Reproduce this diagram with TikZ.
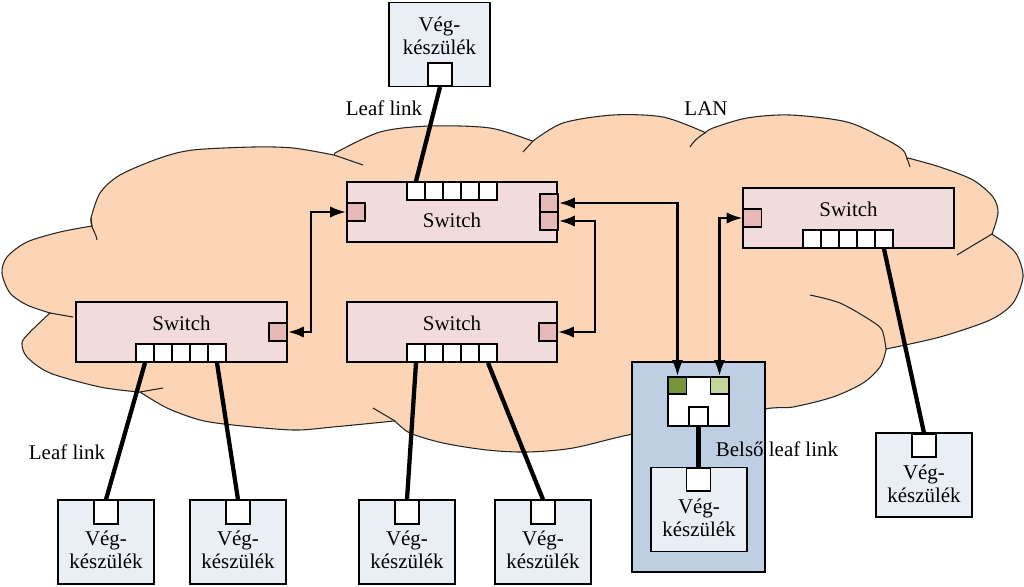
\documentclass[tikz,border=0pt]{standalone}
\usepackage{fontspec}
\setmainfont{Liberation Serif}
\usetikzlibrary{arrows.meta}
\definecolor{cloudfill}{RGB}{251,213,181}
\definecolor{swfill}{RGB}{242,220,219}
\definecolor{sidefill}{RGB}{230,184,183}
\definecolor{devfill}{RGB}{234,238,245}
\definecolor{blufill}{RGB}{190,206,227}
\definecolor{gdark}{RGB}{119,147,60}
\definecolor{glight}{RGB}{195,214,155}
\begin{document}
\begin{tikzpicture}[x=0.75pt, y=-0.75pt, font=\fontsize{15.7pt}{17.3pt}\selectfont,
  >={Latex[length=12pt,width=8.5pt]},
  box/.style={draw, line width=1.3pt, inner sep=0pt},
  switch/.style={box, fill=swfill, minimum width=158pt, minimum height=45pt},
  cell/.style={box, fill=white, minimum size=13.5pt},
  side/.style={box, fill=sidefill, minimum size=13.5pt},
  dev/.style={box, fill=devfill, minimum width=72pt, minimum height=63pt},
  dport/.style={box, fill=white, minimum width=18pt, minimum height=17.5pt},
  txt/.style={align=center, inner sep=0pt},
  leaf/.style={line width=3.2pt},
  trunk/.style={<->, line width=2pt}]
  \useasboundingbox (0,0) rectangle (1024,586);
  % LAN cloud
  \draw[line width=0.8pt, black!85, fill=cloudfill]
    plot[smooth] coordinates {(50,313) (27,305) (10,293) (2,273) (7,257) (27,242) (60,232) (92,226)}
    -- plot[smooth] coordinates {(91,218) (100,193) (120,175) (160,158) (193,150) (253,147) (293,148) (334,155)}
    -- plot[smooth] coordinates {(335,153) (380,132) (430,126) (490,128) (532,141)}
    -- plot[smooth] coordinates {(533,141) (563,123) (613,115) (663,117) (704,132)}
    -- plot[smooth] coordinates {(705,133) (713,128) (747,118) (790,115) (847,122) (887,140) (903,150) (907,159)}
    -- plot[smooth] coordinates {(908,158) (940,167) (973,180) (993,197) (998,213) (992,234)}
    -- plot[smooth] coordinates {(993,235) (1005,243) (1017,255) (1023,277) (1013,303) (990,320) (940,337) (886,349)}
    -- plot[smooth] coordinates {(886,350) (880,367) (863,383) (833,397) (793,407) (765,409) (700,425)}
    -- plot[smooth] coordinates {(700,425) (633,434) (573,448) (527,452) (487,450) (443,443) (410,433) (395,421)}
    -- plot[smooth] coordinates {(394,421) (333,427) (293,430) (233,425) (200,420) (167,408) (140,392)}
    -- plot[smooth] coordinates {(139,392) (100,387) (50,373) (27,357) (22,343) (30,332) (50,313)}
    -- cycle;
  \draw[line width=0.8pt, black!85] (91,218) .. controls (90,228) and (96,232) .. (97,240);
  \draw[line width=0.8pt, black!85] (334,155) -- (363,165);
  \draw[line width=0.8pt, black!85] (533,141) -- (523,152);
  \draw[line width=0.8pt, black!85] (705,133) .. controls (698,137) and (693,142) .. (690,147);
  \draw[line width=0.8pt, black!85] (907,158) -- (910,167);
  \draw[line width=0.8pt, black!85] (992,234) -- (957,255);
  \draw[line width=0.8pt, black!85] plot[smooth] coordinates {(886,349) (882,330) (870,320) (840,303) (810,295)};
  \draw[line width=0.8pt, black!85] (395,421) -- (373,408);
  \draw[line width=0.8pt, black!85] (140,392) -- (163,388);
  \draw[line width=0.8pt, black!85] (50,313) -- (73,317);
  \node (lan) at (706,109) {LAN};

  % switches
  \node[switch] (s1) at (452,212) {};
  \node[switch] (s2) at (181.5,332) {};
  \node[switch] (s3) at (452,332) {};
  \node[switch] (s4) at (848.5,218) {};
  \node[txt] (s1t) at (452,220) {Switch};
  \node[txt] (s2t) at (181.5,323) {Switch};
  \node[txt] (s3t) at (452,323) {Switch};
  \node[txt] (s4t) at (848.5,209) {Switch};
  \foreach \i in {1,...,5} {
    \node[cell] (s1p\i) at ({398+18*\i},191) {};
    \node[cell] (s2p\i) at ({127+18*\i},353) {};
    \node[cell] (s3p\i) at ({398+18*\i},353) {};
    \node[cell] (s4p\i) at ({794+18*\i},239) {};
  }
  \node[side] (s1l) at (356,212) {};
  \node[side] (s1r1) at (549,203) {};
  \node[side] (s1r2) at (549,221) {};
  \node[side] (s2r) at (278,332) {};
  \node[side] (s3r) at (548,332) {};
  \node[side] (s4l) at (752.5,218) {};

  % end devices
  \node[dev, minimum width=76pt] (d0) at (439.5,44.5) {};
  \node[dport] (dp0) at (440,74.5) {};
  \node[txt] (d0t) at (439.5,36) {Vég-\\készülék};
  \foreach \n/\x in {1/106,2/238,3/407,4/543} {
    \node[dev] (d\n) at (\x,542) {};
    \node[dport] (dp\n) at (\x,512) {};
    \node[txt] (d\n t) at (\x,550) {Vég-\\készülék};
  }
  \node[dev] (d5) at (924,475) {};
  \node[dport] (dp5) at (924,445.5) {};
  \node[txt] (d5t) at (924,484) {Vég-\\készülék};

  % built-in device
  \node[box, fill=blufill, minimum width=99.75pt, minimum height=157.5pt] (blu) at (698.5,467) {};
  \node[box, fill=white, minimum width=45.75pt, minimum height=36.75pt] (ada) at (698.5,401.5) {};
  \node[box, fill=gdark, minimum width=13.5pt, minimum height=12.75pt] (gdk) at (677.5,385.5) {};
  \node[box, fill=glight, minimum width=13.5pt, minimum height=12.75pt] (glt) at (719.5,385.5) {};
  \node[box, fill=white, minimum size=14.25pt] (abp) at (698.5,416.5) {};
  \node[dev] (d6) at (699,509.5) {};
  \node[dport] (dp6) at (698.5,479.5) {};
  \node[txt] (d6t) at (699,518) {Vég-\\készülék};

  % leaf links
  \draw[leaf] (dp0.south) -- (s1p1.north);
  \draw[leaf] (s2p1.south) -- (dp1.north);
  \draw[leaf] (s2p5.south) -- (dp2.north);
  \draw[leaf] (s3p1.south) -- (dp3.north);
  \draw[leaf] (s3p5.south) -- (dp4.north);
  \draw[leaf] (s4p5.south) -- (dp5.north);
  \draw[leaf] (abp.south) -- (dp6.north);
  \node (lf0) at (384,108) {Leaf link};
  \node (lf1) at (67,452) {Leaf link};
  \node (lfb) at (777,449) {Belső leaf link};

  % switch to switch
  \draw[trunk] (s2r.east) -- ++(23,0) |- (s1l.west);
  \draw[trunk] (s1r1.east) -| (gdk.north);
  \draw[trunk] (s1r2.east) -- ++(36,0) |- (s3r.east);
  \draw[trunk] (s4l.west) -| (glt.north);
\end{tikzpicture}
\end{document}
